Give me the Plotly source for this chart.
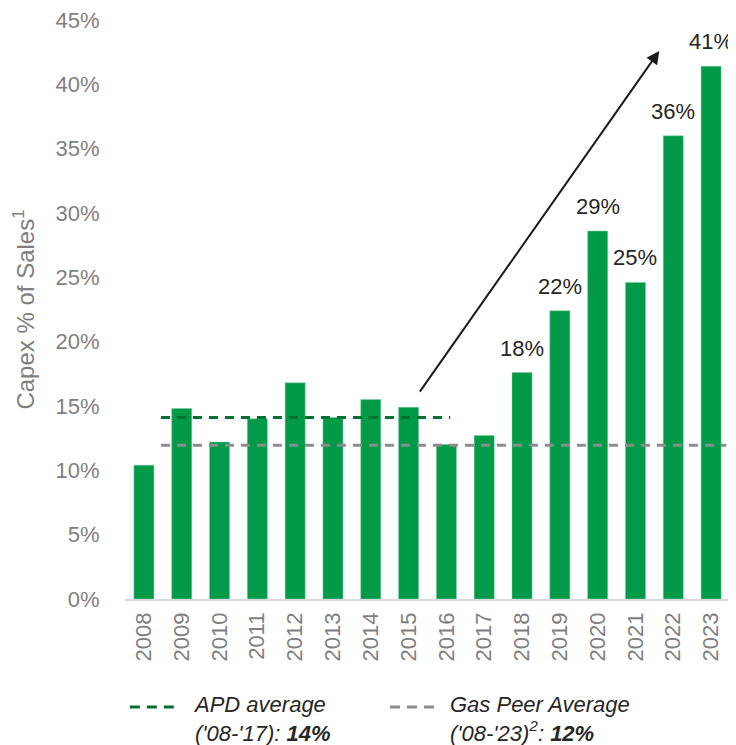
import plotly.graph_objects as go

years = list(range(2008, 2024))
capex_pct = [10.4, 14.8, 12.2, 14.0, 16.8, 14.1, 15.5, 14.9,
             12.0, 12.7, 17.6, 22.4, 28.6, 24.6, 36.0, 41.4]
bar_labels = ["", "", "", "", "", "", "", "", "", "",
              "18%", "22%", "29%", "25%", "36%", "41%"]
y_ticks = [0, 5, 10, 15, 20, 25, 30, 35, 40, 45]
apd_avg = 14.1
peer_avg = 11.95

FONT = "Liberation Sans, Arial, sans-serif"
GREEN = "#009a49"
APD_GREEN = "#00702f"
PEER_GREY = "#8c8c8c"
GREY_TXT = "#7f7f7f"

fig = go.Figure()

fig.add_trace(go.Bar(
    x=years,
    y=capex_pct,
    width=0.53,
    marker=dict(color=GREEN, line=dict(color="#7fcc9f", width=0.5)),
    showlegend=False,
))

fig.add_trace(go.Scatter(
    x=[2008.45, 2016.1],
    y=[apd_avg, apd_avg],
    mode="lines",
    line=dict(color=APD_GREEN, width=3, dash="9px,7px"),
    showlegend=False,
))
fig.add_trace(go.Scatter(
    x=[2008.45, 2023.4],
    y=[peer_avg, peer_avg],
    mode="lines",
    line=dict(color=PEER_GREY, width=3, dash="9px,7px"),
    showlegend=False,
))

# value labels above the recent bars
for yr, val, lab in zip(years, capex_pct, bar_labels):
    if lab:
        fig.add_annotation(x=yr, y=val, text=lab, showarrow=False,
                           yanchor="bottom", yshift=10,
                           font=dict(size=22, color="#262626", family=FONT))

# growth arrow from 2015 up past 2023
fig.add_annotation(
    x=2021.63, y=42.6, ax=2015.27, ay=16.0,
    xref="x", yref="y", axref="x", ayref="y",
    text="", showarrow=True,
    arrowhead=2, arrowsize=1.3, arrowwidth=2, arrowcolor="#1a1a1a",
)

# legend under the chart
legend_items = [
    (0.008, 0.091, 0.109, APD_GREEN, "APD average<br>('08-'17): <b>14%</b>"),
    (0.438, 0.512, 0.534, PEER_GREY, "Gas Peer Average<br>('08-'23)<sup>2</sup>: <b>12%</b>"),
]
for x0, x1, xt, col, label in legend_items:
    fig.add_shape(type="line", xref="paper", yref="paper",
                  x0=x0, x1=x1, y0=-0.1865, y1=-0.1865,
                  line=dict(color=col, width=3, dash="10px,7px"))
    fig.add_annotation(x=xt, y=-0.158, xref="paper", yref="paper",
                       xanchor="left", yanchor="top", align="left",
                       showarrow=False, text=label,
                       font=dict(size=22, color="#262626", style="italic", family=FONT))

# page body adds an 8px margin, so the figure is 8px smaller
fig.update_layout(
    width=728, height=737,
    margin=dict(l=117, r=6, t=12, b=146),
    plot_bgcolor="white", paper_bgcolor="white",
    font=dict(family=FONT, color=GREY_TXT),
    bargap=0.47,
    xaxis=dict(
        range=[2007.5, 2023.5],
        tickvals=years,
        ticktext=[str(y) for y in years],
        tickangle=-90,
        tickfont=dict(size=22, color=GREY_TXT),
        showline=True, linecolor="#d9d9d9", linewidth=1.5,
        showgrid=False, zeroline=False,
        ticks="outside", ticklen=3, tickcolor="rgba(0,0,0,0)",
        automargin=False,
    ),
    yaxis=dict(
        range=[0, 45],
        tickvals=y_ticks,
        ticktext=[f"{v}%" for v in y_ticks],
        tickfont=dict(size=22, color=GREY_TXT),
        ticklabeloverflow="allow",
        showgrid=False, zeroline=False, showline=False,
        ticks="outside", ticklen=20, tickcolor="rgba(0,0,0,0)",
        title=dict(text="Capex % of Sales<sup>1</sup>",
                   font=dict(size=24, color=GREY_TXT), standoff=14),
        automargin=False,
    ),
)

fig.write_html("out.html")
